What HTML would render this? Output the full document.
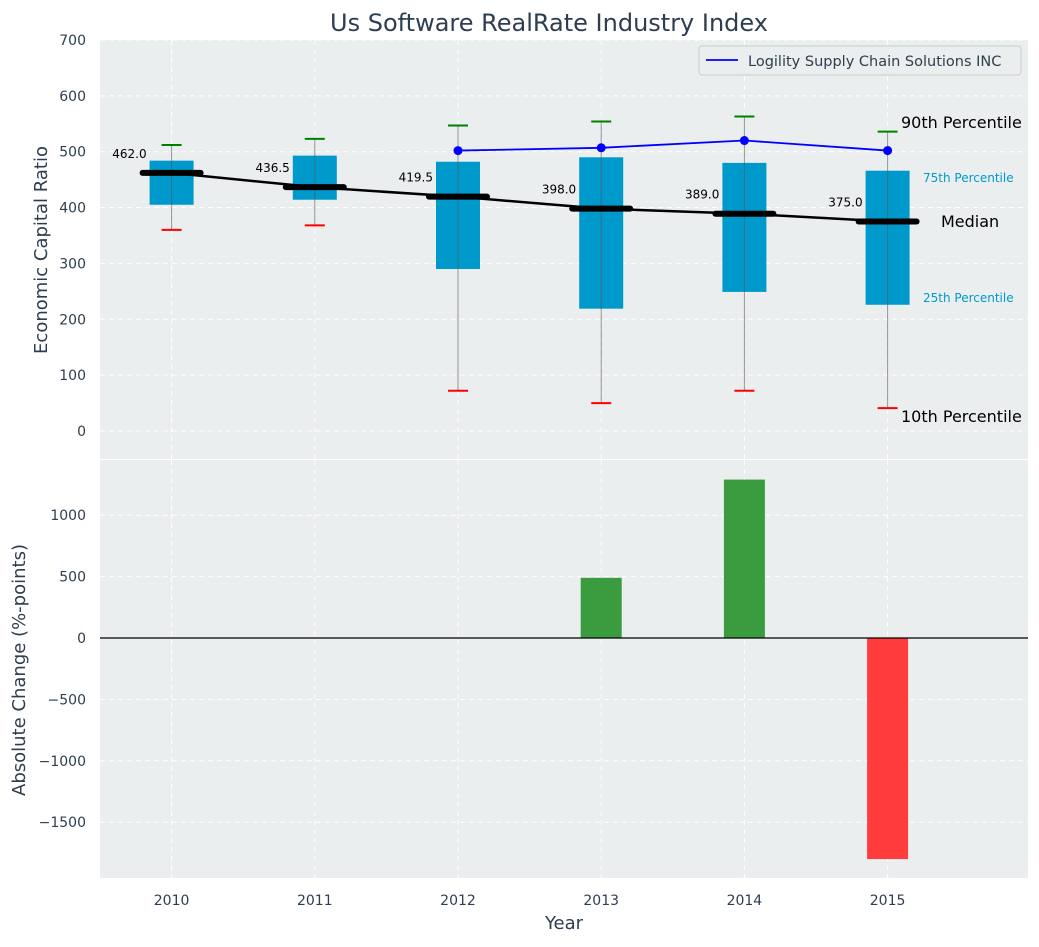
<!DOCTYPE html>
<html><head><meta charset="utf-8"><style>
body{margin:0;background:#fff;font-family:"Liberation Sans","DejaVu Sans",sans-serif}
svg text{font-family:"DejaVu Sans","Liberation Sans",sans-serif}
</style></head><body>
<svg id="c" width="1039" height="942" xmlns="http://www.w3.org/2000/svg"></svg>
<script>
const years=["2010","2011","2012","2013","2014","2015"];
const p10=[360,368,72,50,72,41];
const q1=[405,414,290,219,249,226];
const med=[462,436.5,419.5,398,389,375];
const q3=[484,493,482,490,480,466];
const p90=[512,523,547,554,563,536];
const companyYears=[2,3,4,5];
const companyVals=[502,507,520,502];
const changeYears=[3,4,5];
const changeVals=[490,1290,-1800];
const topTicks=[0,100,200,300,400,500,600,700];
const botTicks=[-1500,-1000,-500,0,500,1000];

const NS="http://www.w3.org/2000/svg";
const svg=document.getElementById('c');
function el(t,a,p){const e=document.createElementNS(NS,t);for(const k in a)e.setAttribute(k,a[k]);(p||svg).appendChild(e);return e;}
const L=100,R=1028;
const x=i=>L+(i+0.5)*143.2;
const yT=v=>431-v*0.5586;
const yB=v=>638-v*0.1228;

let e;
e=el('rect',{x:L,y:40,width:R-L,height:419,fill:'#eaeeef'});


e=el('rect',{x:L,y:460,width:R-L,height:418,fill:'#eaeeef'});



years.forEach((y,i)=>{
 el('line',{x1:x(i),x2:x(i),y1:40,y2:459,stroke:'#fff','stroke-dasharray':'5,4','stroke-width':1});
 el('line',{x1:x(i),x2:x(i),y1:460,y2:878,stroke:'#fff','stroke-dasharray':'5,4','stroke-width':1});
 e=el('text',{x:x(i),y:905,'text-anchor':'middle','font-size':14,fill:'#2e3e50'});e.textContent=y;
 
 
});
topTicks.forEach(v=>{
 el('line',{x1:L,x2:R,y1:yT(v),y2:yT(v),stroke:'#fff','stroke-dasharray':'5,4'});
 e=el('text',{x:86,y:yT(v)+5,'text-anchor':'end','font-size':14,fill:'#2e3e50'});e.textContent=v;
 
 
});
botTicks.forEach(v=>{
 el('line',{x1:L,x2:R,y1:yB(v),y2:yB(v),stroke:'#fff','stroke-dasharray':'5,4'});
 e=el('text',{x:86,y:yB(v)+5,'text-anchor':'end','font-size':14,fill:'#2e3e50'});e.textContent=v<0?'\u2212'+(-v):v;
 
 
});

years.forEach((y,i)=>{
 const cx=x(i);
 e=el('rect',{x:cx-22,y:yT(q3[i]),width:44,height:yT(q1[i])-yT(q3[i]),fill:'#0099cc'});
 
 
 el('line',{x1:cx,x2:cx,y1:yT(p90[i]),y2:yT(p10[i]),stroke:'#555','stroke-width':1,'stroke-opacity':0.6});
 e=el('line',{x1:cx-10,x2:cx+10,y1:yT(p90[i]),y2:yT(p90[i]),stroke:'green','stroke-width':2});
 
 
 e=el('line',{x1:cx-10,x2:cx+10,y1:yT(p10[i]),y2:yT(p10[i]),stroke:'red','stroke-width':2});
 
 
});
e=el('polyline',{points:med.map((m,i)=>x(i)+','+yT(m)).join(' '),fill:'none',stroke:'#000','stroke-width':2.5});


years.forEach((y,i)=>{
 const cx=x(i);
 e=el('line',{x1:cx-29,x2:cx+29,y1:yT(med[i]),y2:yT(med[i]),stroke:'#000','stroke-width':6,'stroke-linecap':'round'});
 
 
 e=el('text',{x:cx-25,y:yT(med[i])-15,'text-anchor':'end','font-size':12,fill:'#000'});e.textContent=med[i].toFixed(1);
 
 
});
e=el('polyline',{points:companyYears.map((k,j)=>x(k)+','+yT(companyVals[j])).join(' '),fill:'none',stroke:'blue','stroke-width':1.8});


companyYears.forEach((k,j)=>{
 e=el('circle',{cx:x(k),cy:yT(companyVals[j]),r:4.5,fill:'blue'});
 
 
});
const ann=[[901,128,'90th Percentile',16,'#000'],[923,182,'75th Percentile',12,'#0099cc'],[941,227,'Median',16,'#000'],[923,302,'25th Percentile',12,'#0099cc'],[901,422,'10th Percentile',16,'#000']];
ann.forEach(a=>{e=el('text',{x:a[0],y:a[1],'font-size':a[3],fill:a[4]});e.textContent=a[2];
 
 });

changeYears.forEach((k,j)=>{
 const v=changeVals[j];
 e=el('rect',{x:x(k)-20.5,y:Math.min(yB(v),yB(0)),width:41,height:Math.abs(yB(v)-yB(0)),fill:v>=0?'#3a9c3e':'#ff3b3b'});
 
 
});
el('line',{x1:L,x2:R,y1:yB(0),y2:yB(0),stroke:'#000','stroke-width':1.2});

e=el('g',{});


el('rect',{x:699,y:46,width:322,height:29,rx:3,fill:'#eaeeef',stroke:'#ccc'},e);
el('line',{x1:706,x2:738,y1:60,y2:60,stroke:'blue','stroke-width':1.8},e);
let t=el('text',{x:748,y:66,'font-size':14.5,fill:'#2e3e50'},e);t.textContent='Logility Supply Chain Solutions INC';

e=el('text',{x:549,y:31,'text-anchor':'middle','font-size':24,fill:'#2e3e50'});e.textContent='Us Software RealRate Industry Index';


e=el('text',{x:47,y:250,'text-anchor':'middle','font-size':18,fill:'#2e3e50',transform:'rotate(-90 47 250)'});e.textContent='Economic Capital Ratio';


e=el('text',{x:25,y:670,'text-anchor':'middle','font-size':18,fill:'#2e3e50',transform:'rotate(-90 25 670)'});e.textContent='Absolute Change (%-points)';


e=el('text',{x:564,y:929,'text-anchor':'middle','font-size':18,fill:'#2e3e50'});e.textContent='Year';


</script>
</body></html>
